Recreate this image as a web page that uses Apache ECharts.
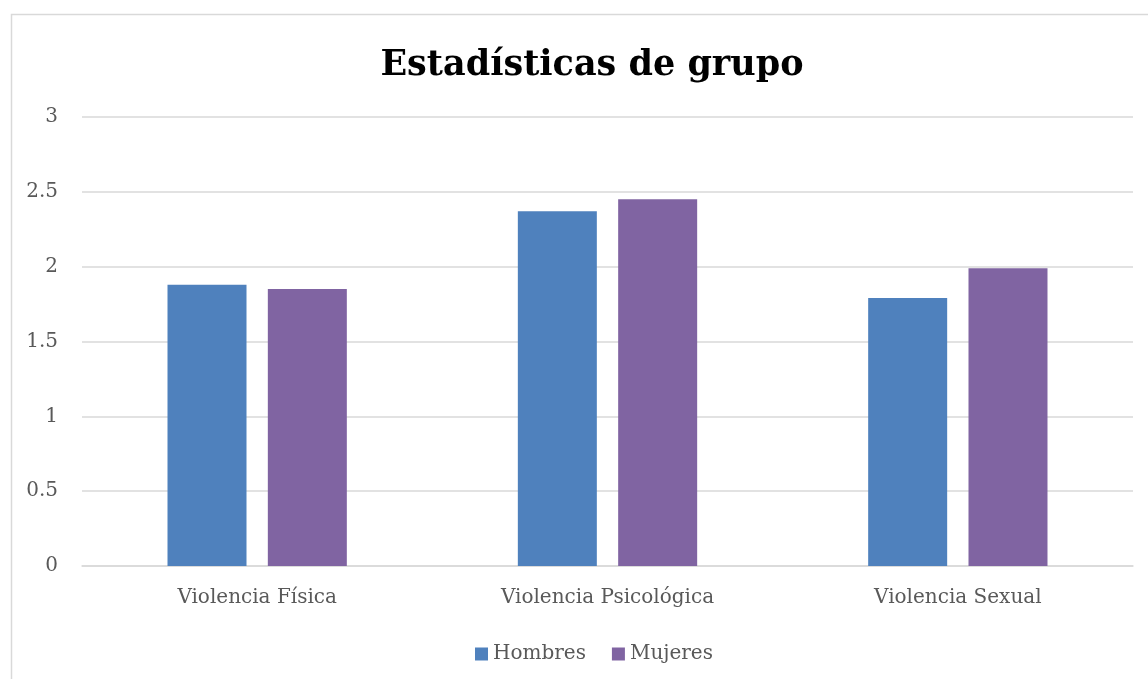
<!DOCTYPE html>
<html>
<head>
<meta charset="utf-8">
<script src="https://cdn.jsdelivr.net/npm/echarts@6/dist/echarts.min.js"></script>
<style>
html,body{margin:0;padding:0;background:#fff;}
#chart{width:1148px;height:679px;}
</style>
</head>
<body>
<div id="chart"></div>
<script>
const titleText = 'Estadísticas de grupo';
const categories = ['Violencia Física', 'Violencia Psicológica', 'Violencia Sexual'];
const seriesNames = ['Hombres', 'Mujeres'];
const hombres = [1.88, 2.37, 1.79];
const mujeres = [1.85, 2.45, 1.99];
const yTicks = [0, 0.5, 1, 1.5, 2, 2.5, 3];

const FONT = '"DejaVu Serif", serif';
const chart = echarts.init(document.getElementById('chart'));
chart.setOption({
  animation: false,
  backgroundColor: '#ffffff',
  title: {
    text: titleText,
    left: 587,
    textAlign: 'center',
    top: 43,
    textStyle: {fontFamily: FONT, fontWeight: 'bold', fontSize: 35, color: '#000000'}
  },
  graphic: [{
    type: 'rect',
    shape: {x: 11.5, y: 14.5, width: 1300, height: 800},
    style: {fill: 'none', stroke: '#d9d9d9', lineWidth: 1.5},
    silent: true, z: -1
  }],
  legend: {
    data: seriesNames,
    left: 470,
    top: 639,
    itemWidth: 13,
    itemHeight: 13,
    itemGap: 26,
    icon: 'rect',
    textStyle: {fontFamily: FONT, fontSize: 20, color: '#595959'}
  },
  grid: {left: 82, right: 15, top: 117, bottom: 113, containLabel: false},
  xAxis: {
    type: 'category',
    data: categories,
    axisLine: {lineStyle: {color: '#d9d9d9', width: 1.5}},
    axisTick: {show: false},
    axisLabel: {fontFamily: FONT, fontSize: 20, color: '#595959', margin: 22}
  },
  yAxis: {
    type: 'value',
    min: 0, max: 3, interval: 0.5,
    axisLine: {show: false},
    axisTick: {show: false},
    splitLine: {lineStyle: {color: '#d9d9d9', width: 1.5}},
    axisLabel: {
      fontFamily: FONT, fontSize: 20, color: '#595959', margin: 24,
      formatter: v => yTicks.includes(v) ? String(v) : ''
    }
  },
  series: [
    {name: seriesNames[0], type: 'bar', data: hombres, barWidth: 79, barGap: '27%',
     itemStyle: {color: '#4f81bd'}},
    {name: seriesNames[1], type: 'bar', data: mujeres, barWidth: 79, barGap: '27%',
     itemStyle: {color: '#8064a2'}}
  ]
});
</script>
</body>
</html>
